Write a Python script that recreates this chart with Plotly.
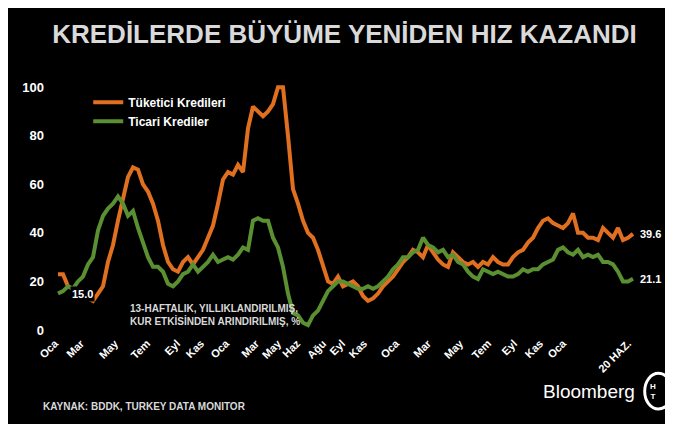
import plotly.graph_objects as go

x = list(range(50, 630, 5))
tuketici = [23,23,18,17,15,14,13,12,15,18,28,35,45,55,63,67,66,60,57,52,45,35,28,25,24,28,30,27,30,33,38,43,52,62,65,64,68,65,83,92,90,88,90,93,100,100,80,58,52,45,40,38,33,27,20,19,22,18,19,20,18,14,12,13,15,18,20,22,25,28,30,33,32,30,35,32,29,27,26,32,30,28,27,28,26,28,27,30,28,27,27,30,32,33,36,38,42,45,46,44,43,42,44,48,40,40,38,38,37,42,40,38,42,37,38,39.6]
ticari = [15,16,18,17,20,22,27,30,41,47,50,52,55,52,47,49,42,36,30,26,26,24,19,18,20,23,24,27,24,26,28,31,28,29,30,29,31,34,33,45,46,45,45,38,34,26,15,7,6,3,2,6,8,12,16,18,20,20,19,18,17,17,18,17,18,20,22,25,27,30,30,32,33,38,35,34,32,33,30,31,28,27,24,22,21,25,24,23,24,23,22,22,23,25,24,25,25,27,28,29,33,34,32,31,33,30,31,30,31,28,28,27,24,20,20,21.1]
n = min(len(x), len(tuketici), len(ticari))
x, tuketici, ticari = x[:n], tuketici[:n], ticari[:n]

tick_pos = [47,73,107,139,169,193,218,248,270,289,315,334,356,388,420,452,480,506,532,555,620]
tick_text = ["Oca","Mar","May","Tem","Eyl","Kas","Oca","Mar","May","Haz","Ağu","Eyl","Kas","Oca","Mar","May","Tem","Eyl","Kas","Oca","20 HAZ."]

ORANGE = "#e0701f"
GREEN = "#5a8f32"
F = "Liberation Sans"

fig = go.Figure()
fig.add_trace(go.Scatter(x=x, y=tuketici, mode="lines", name="<b>Tüketici Kredileri</b>",
                         line=dict(color=ORANGE, width=4)))
fig.add_trace(go.Scatter(x=x, y=ticari, mode="lines", name="<b>Ticari Krediler</b>",
                         line=dict(color=GREEN, width=4)))

fig.update_layout(
    width=673, height=424, paper_bgcolor="black", plot_bgcolor="black",
    margin=dict(l=45, r=41, t=67, b=102, autoexpand=False),
    font=dict(family=F, color="white"),
    title=dict(text="<b>KREDİLERDE BÜYÜME YENİDEN HIZ KAZANDI</b>", x=0.5, xanchor="center",
               y=0.94, yanchor="middle", font=dict(size=26, color="#d9d9d9", family=F)),
    legend=dict(x=0.06, y=0.95, xanchor="left", yanchor="top", bgcolor="rgba(0,0,0,0)",
                font=dict(size=12, color="white", family=F), itemwidth=30, tracegroupgap=2),
    xaxis=dict(range=[45, 632], tickmode="array", tickvals=tick_pos,
               ticktext=["<b>%s</b>" % t for t in tick_text],
               tickangle=-45, showgrid=False, zeroline=False, showline=False, automargin=False,
               tickfont=dict(size=11, color="white", family=F), ticklabelstandoff=4),
    yaxis=dict(range=[0, 105], tickvals=[0,20,40,60,80,100], ticktext=["<b>0</b>","<b>20</b>","<b>40</b>","<b>60</b>","<b>80</b>","<b>100</b>"],
               showgrid=False, zeroline=False, automargin=False,
               tickfont=dict(size=13, color="white", family=F), ticklabelstandoff=8),
    showlegend=True,
)
fig.add_annotation(x=62, y=15, text="<b>15.0</b>", showarrow=False, xanchor="left",
                   font=dict(size=11, color="white"), bgcolor="black")
fig.add_annotation(x=630, y=39.6, text="<b>39.6</b>", showarrow=False, xanchor="left",
                   font=dict(size=11, color="white"))
fig.add_annotation(x=630, y=21.1, text="<b>21.1</b>", showarrow=False, xanchor="left",
                   font=dict(size=11, color="white"))
fig.add_annotation(x=120, y=12, text="<b>13-HAFTALIK, YILLIKLANDIRILMIŞ,<br>KUR ETKİSİNDEN ARINDIRILMIŞ, %</b>",
                   showarrow=False, xanchor="left", yanchor="top", align="left",
                   font=dict(size=10, color="#d9d9d9"))
fig.add_annotation(xref="paper", yref="paper", x=-0.02, y=-0.3, xanchor="left", yanchor="middle",
                   text="<b>KAYNAK: BDDK, TURKEY DATA MONITOR</b>",
                   showarrow=False, font=dict(size=10, color="#d9d9d9"))
fig.add_annotation(xref="paper", yref="paper", x=0.995, y=-0.24, xanchor="right", yanchor="middle", text="Bloomberg",
                   showarrow=False, font=dict(size=19, color="white"))
fig.add_shape(type="circle", xref="paper", yref="paper", x0=1.008, x1=1.055, y0=-0.31, y1=-0.17,
              line=dict(color="white", width=3))
fig.add_annotation(xref="paper", yref="paper", x=1.0315, y=-0.24, yanchor="middle", text="<b>H<br>T</b>", showarrow=False,
                   font=dict(size=8, color="white"))
fig.write_html("out.html")
